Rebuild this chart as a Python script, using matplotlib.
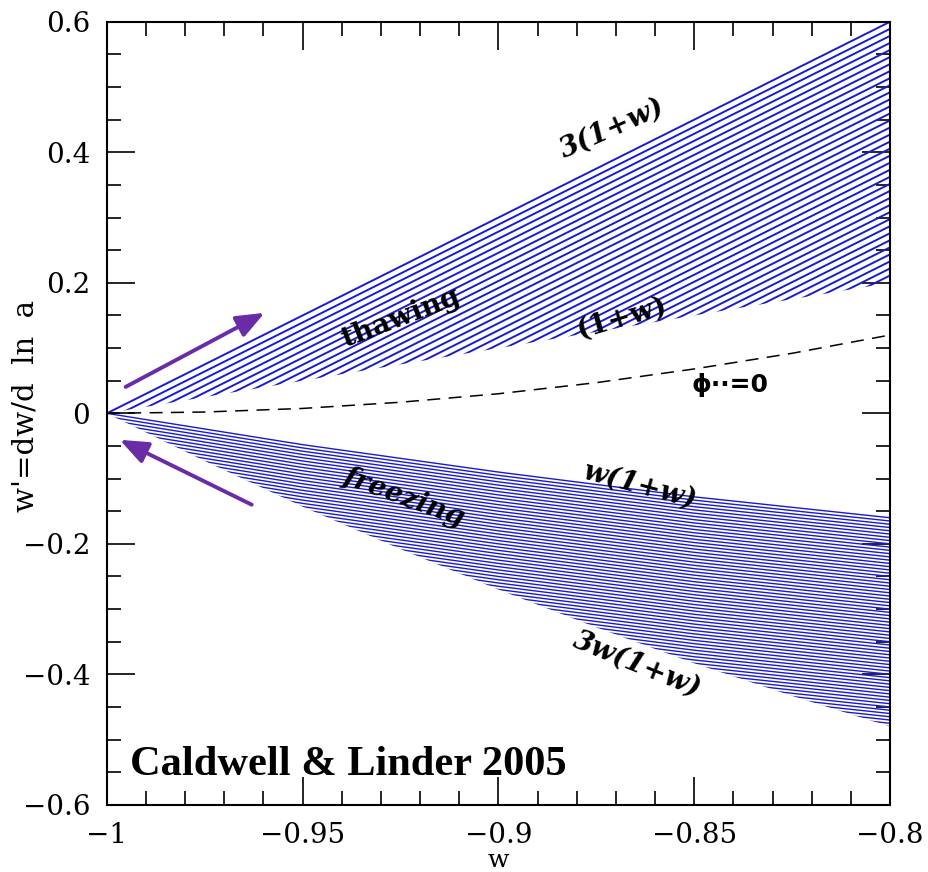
import numpy as np
import matplotlib; matplotlib.use("Agg")
import matplotlib.pyplot as plt
from matplotlib.patches import Polygon
from matplotlib.ticker import MultipleLocator

# w grid and boundary curves of the thawing / freezing regions
W       = [-1.0, -0.975, -0.95, -0.925, -0.9, -0.875, -0.85, -0.825, -0.8]
THAW_LO = [0.0, 0.025, 0.05, 0.075, 0.10, 0.125, 0.15, 0.175, 0.20]     # (1+w)
THAW_HI = [0.0, 0.075, 0.15, 0.225, 0.30, 0.375, 0.45, 0.525, 0.60]     # 3(1+w)
FRZ_HI  = [0.0, -0.024, -0.048, -0.069, -0.090, -0.109, -0.128, -0.144, -0.160]  # w(1+w)
FRZ_LO  = [0.0, -0.073, -0.143, -0.208, -0.270, -0.328, -0.383, -0.433, -0.480]  # 3w(1+w)
PHIDD0  = [0.0, 0.002, 0.0075, 0.017, 0.030, 0.047, 0.068, 0.092, 0.120]        # phi''=0

BLUE = "#1a1ad0"
PURPLE = "#6a2ca6"

plt.rcParams.update({"font.family": ["DejaVu Serif"], "font.size": 17})
fig = plt.figure(figsize=(9.29, 8.72), dpi=100)
ax = fig.add_axes([0.115, 0.077, 0.843, 0.898])

w = np.array(W)
def hatch(lo, hi, step, lw):
    # parallel copies of the upper edge, clipped to the region
    lo, hi = np.array(lo), np.array(hi)
    clip = Polygon(np.column_stack([np.r_[w, w[::-1]], np.r_[hi, lo[::-1]]]),
                   closed=True, fc="none", ec="none", transform=ax.transData)
    ax.add_patch(clip)
    ax.plot(w, hi, color=BLUE, lw=lw)          # upper edge, drawn in full
    n = int(np.ceil((hi - lo).max() / step)) + 1
    for k in range(1, n):
        ln, = ax.plot(w, hi - k*step, color=BLUE, lw=lw, solid_capstyle="butt")
        ln.set_clip_path(clip)

hatch(THAW_LO, THAW_HI, 0.0108, 1.4)
hatch(FRZ_LO, FRZ_HI, 0.005, 1.0)
ax.plot(w, PHIDD0, color="k", ls=(0, (8.5, 5.5)), lw=1.1)

# arrows: thawing moves away from w=-1, freezing moves toward it
arrow = dict(arrowstyle="-|>,head_length=1.0,head_width=0.4",
             color=PURPLE, lw=2.8, shrinkA=0, shrinkB=0)
ax.annotate("", xy=(-0.9597, 0.154), xytext=(-0.9952, 0.0405), arrowprops=arrow)
ax.annotate("", xy=(-0.9967, -0.0406), xytext=(-0.963, -0.140), arrowprops=arrow)

lab = dict(fontsize=20, fontweight="bold", ha="center", va="center",
           family=["DejaVu Serif"])
ax.text(-0.871, 0.437, "3(1+w)", rotation=24, style="italic", **lab)
ax.text(-0.8685, 0.146, "(1+w)", rotation=16, **lab)
ax.text(-0.925, 0.146, "thawing", rotation=21, **lab)
ax.text(-0.924, -0.128, "freezing", rotation=-20, style="italic", **lab)
ax.text(-0.864, -0.110, "w(1+w)", rotation=-15, style="italic", **lab)
ax.text(-0.8646, -0.385, "3w(1+w)", rotation=-22, style="italic", **lab)
ax.text(-0.8409, 0.044, "ϕ··=0", fontsize=18, fontweight="bold",
        ha="center", va="center", family=["DejaVu Sans"])
ax.text(-0.994, -0.539, "Caldwell & Linder 2005", fontsize=30.5, fontweight="bold",
        ha="left", va="center", family=["Liberation Serif"])

ax.set_xlim(-1, -0.8); ax.set_ylim(-0.6, 0.6)
ax.xaxis.set_minor_locator(MultipleLocator(0.01))
ax.yaxis.set_minor_locator(MultipleLocator(0.05))
ax.set_xticks([-1, -0.95, -0.9, -0.85, -0.8])
ax.set_xticklabels(["\u22121", "\u22120.95", "\u22120.9", "\u22120.85", "\u22120.8"])
ax.set_yticks([-0.6, -0.4, -0.2, 0, 0.2, 0.4, 0.6])
ax.set_yticklabels(["\u22120.6", "\u22120.4", "\u22120.2", "0", "0.2", "0.4", "0.6"])
ax.tick_params(which="both", direction="in", top=True, right=True, width=1.2)
ax.tick_params(which="major", length=20, pad=12, labelsize=20)
ax.tick_params(which="minor", length=10)
for s in ax.spines.values(): s.set_linewidth(1.5)
ax.set_xlabel("w", fontsize=18, labelpad=0)
ax.set_ylabel("w'=dw/d  ln  a", fontsize=21)
ax.yaxis.set_label_coords(-0.086, 0.51)

fig.savefig("out.png", dpi=100)
